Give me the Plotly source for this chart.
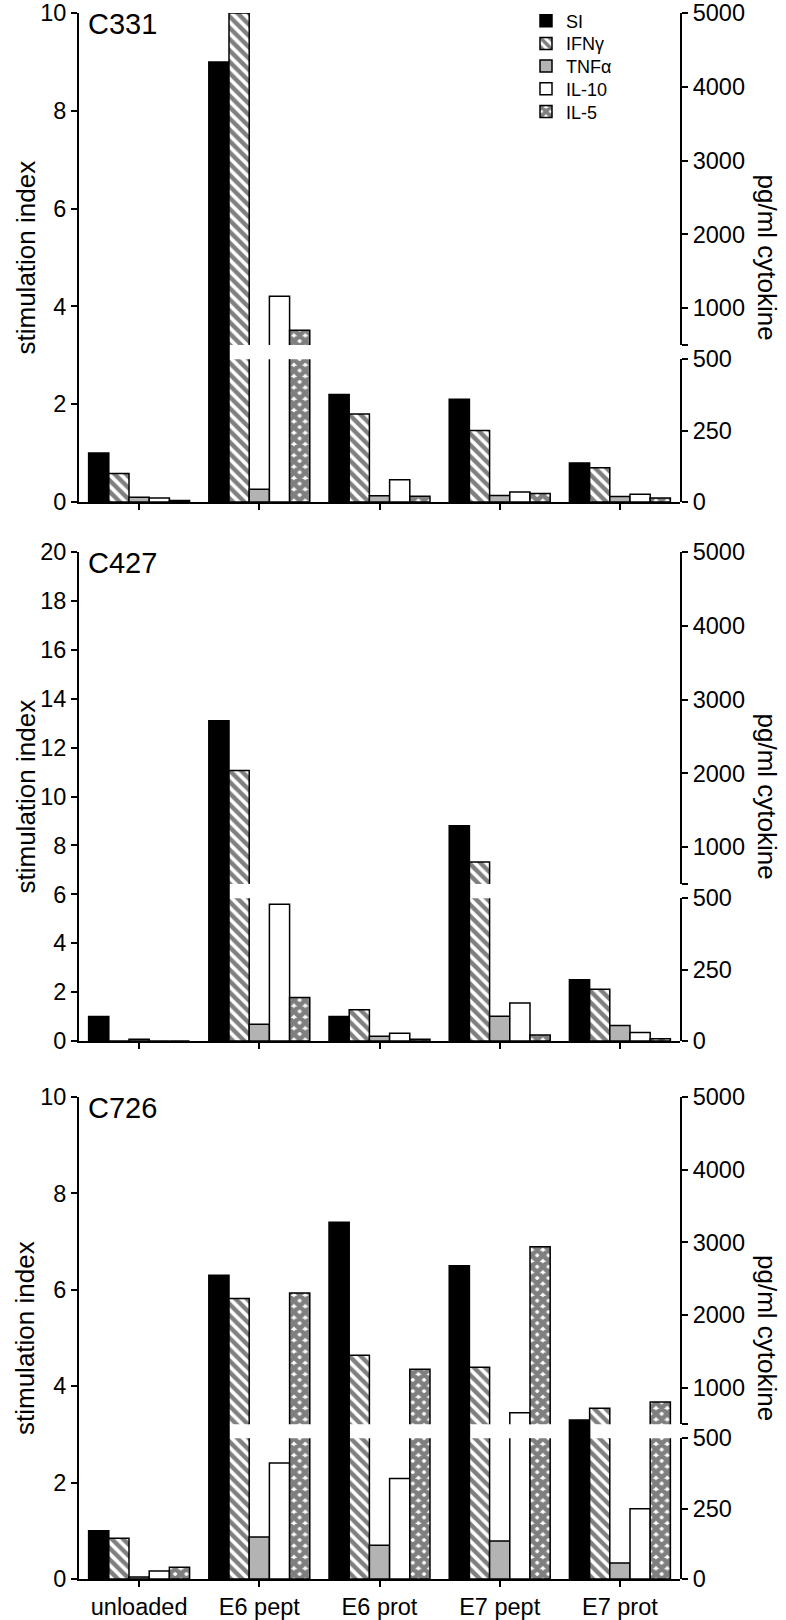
import plotly.graph_objects as go

# ---------------- data ----------------
categories = ["unloaded", "E6 pept", "E6 prot", "E7 pept", "E7 prot"]
panel_names = ["C331", "C427", "C726"]
si_max = [10, 20, 10]

si_C331 = [1.0, 9.0, 2.2, 2.1, 0.8]
ifn_C331 = [100, 5000, 308, 250, 120]
tnf_C331 = [17, 45, 22, 23, 19]
il10_C331 = [14, 1160, 78, 35, 27]
il5_C331 = [5, 700, 20, 30, 14]

si_C427 = [1.0, 13.1, 1.0, 8.8, 2.5]
ifn_C427 = [0, 2040, 109, 800, 181]
tnf_C427 = [6, 59, 17, 87, 54]
il10_C427 = [0, 479, 27, 133, 30]
il5_C427 = [0, 152, 6, 21, 8]

si_C726 = [1.0, 6.3, 7.4, 6.5, 3.3]
ifn_C726 = [145, 2230, 1450, 1285, 720]
tnf_C726 = [7, 149, 120, 135, 57]
il10_C726 = [28, 412, 357, 660, 250]
il5_C726 = [42, 2305, 1255, 2940, 805]

si_data = [si_C331, si_C427, si_C726]
cyto_data = [
    [ifn_C331, tnf_C331, il10_C331, il5_C331],
    [ifn_C427, tnf_C427, il10_C427, il5_C427],
    [ifn_C726, tnf_C726, il10_C726, il5_C726],
]
series_names = ["SI", "IFNγ", "TNFα", "IL-10", "IL-5"]
lower_ticks = [0, 250, 500]
upper_ticks = [500, 1000, 2000, 3000, 4000, 5000]

# ---------------- layout geometry ----------------
W, H = 786, 1620
ML, MR, MT, MB = 79, 106, 13, 41
panel_px = [(13, 502), (552, 1041), (1097, 1579)]
LOW_FRAC, UP_FRAC = 0.292, 0.321
FONT = "Liberation Sans, Arial, sans-serif"
legend_rows_px = [21, 43.7, 66.4, 89.1, 111.8]


def py(ypx):
    return (H - MB - ypx) / (H - MT - MB)


def px_x(xpx):
    return (xpx - ML) / (W - ML - MR)


BW = 0.168
offsets = [-0.42 + k * BW for k in range(5)]
legend_ids = ["legend", "legend2", "legend3", "legend4", "legend5"]

styles = [
    dict(color="black", line=dict(color="black", width=1.5)),
    dict(color="white", line=dict(color="black", width=1.5),
         pattern=dict(shape="\\", fgcolor="black", bgcolor="white", size=8, solidity=0.55)),
    dict(color="#b3b3b3", line=dict(color="black", width=1.5)),
    dict(color="white", line=dict(color="black", width=1.5)),
    dict(color="white", line=dict(color="black", width=1.5),
         pattern=dict(shape="x", fgcolor="black", bgcolor="white", size=8, solidity=0.82)),
]


def axkey(name):
    return f"{name[0]}axis{name[1:]}"


fig = go.Figure()
layout = {}
annotations = []

for i in range(3):
    top_px, bot_px = panel_px[i]
    d0, d1 = py(bot_px), py(top_px)
    h = d1 - d0
    xn = "x" if i == 0 else f"x{i + 1}"
    yl = "y" if i == 0 else f"y{3 * i + 1}"
    ylo = f"y{3 * i + 2}"
    yup = f"y{3 * i + 3}"

    fig.add_trace(go.Bar(x=categories, y=si_data[i], xaxis=xn, yaxis=yl,
                         width=BW, offset=offsets[0], marker=styles[0],
                         name=series_names[0], legend=legend_ids[0], showlegend=(i == 0)))
    for k, vals in enumerate(cyto_data[i]):
        for part, ax in (("low", ylo), ("up", yup)):
            fig.add_trace(go.Bar(x=categories, y=vals, xaxis=xn, yaxis=ax,
                                 width=BW, offset=offsets[k + 1], marker=styles[k + 1],
                                 name=series_names[k + 1], legend=legend_ids[k + 1],
                                 showlegend=(i == 0 and part == "low")))

    common = dict(showline=True, linecolor="black", linewidth=2, ticks="outside",
                  ticklen=6, tickwidth=1.8, tickcolor="black", showgrid=False,
                  zeroline=False, tickfont=dict(size=23.5, color="black", family=FONT))
    layout[axkey(xn)] = dict(common, domain=[0, 1], anchor=yl, type="category",
                             range=[-0.5, 4.5], showticklabels=(i == 2),
                             categoryorder="array", categoryarray=categories)
    layout[axkey(yl)] = dict(common, domain=[d0, d1], anchor=xn, range=[0, si_max[i]],
                             tick0=0, dtick=2, side="left")
    layout[axkey(ylo)] = dict(common, domain=[d0, d0 + LOW_FRAC * h], anchor=xn,
                              range=[0, 500], tickvals=lower_ticks, side="right")
    layout[axkey(yup)] = dict(common, domain=[d0 + UP_FRAC * h, d1], anchor=xn,
                              range=[500, 5000], tickvals=upper_ticks,
                              ticktext=[""] + [str(v) for v in upper_ticks[1:]], side="right")

    mid = (d0 + d1) / 2
    annotations.append(dict(text=panel_names[i], xref="paper", yref="paper",
                            x=px_x(86), y=d1, xanchor="left", yanchor="top", yshift=7,
                            showarrow=False, font=dict(size=29, color="black", family=FONT)))
    annotations.append(dict(text="stimulation index", xref="paper", yref="paper",
                            x=px_x(25), y=mid, xanchor="center", yanchor="middle",
                            textangle=-90, showarrow=False,
                            font=dict(size=26, color="black", family=FONT)))
    annotations.append(dict(text="pg/ml cytokine", xref="paper", yref="paper",
                            x=px_x(767), y=mid, xanchor="center", yanchor="middle",
                            textangle=90, showarrow=False,
                            font=dict(size=26, color="black", family=FONT)))

for lid, ypx in zip(legend_ids, legend_rows_px):
    layout[lid] = dict(x=px_x(526), y=py(ypx), xanchor="left", yanchor="middle",
                       bgcolor="rgba(0,0,0,0)", borderwidth=0,
                       font=dict(size=18, color="black", family=FONT),
                       itemclick=False, itemdoubleclick=False)

fig.update_layout(**layout)
fig.update_layout(
    width=W, height=H,
    margin=dict(l=ML, r=MR, t=MT, b=MB, pad=0, autoexpand=False),
    paper_bgcolor="white", plot_bgcolor="rgba(0,0,0,0)",
    barmode="overlay",
    font=dict(family=FONT, color="black"),
    annotations=annotations,
    showlegend=True,
)

fig.write_html("out.html",
               config={"displayModeBar": False},
               post_script="document.body.style.margin='0px';document.body.style.overflow='hidden';")
